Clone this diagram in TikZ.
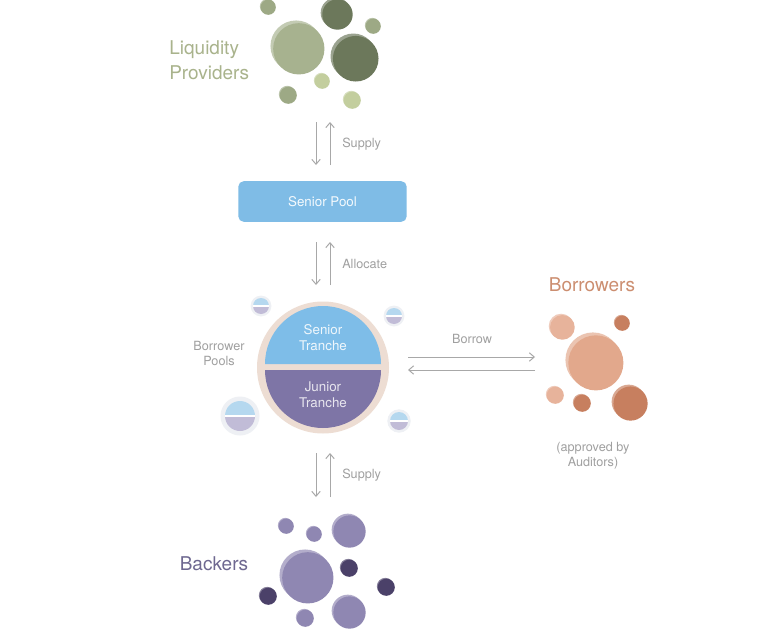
\documentclass[tikz,border=0pt]{standalone}
\usepackage{fontspec}
\setmainfont{TeX Gyre Heros}
\usetikzlibrary{arrows.meta,positioning}
\definecolor{greenM}{HTML}{9DA985}
\definecolor{greenL}{HTML}{A7B28F}
\definecolor{greenD}{HTML}{6C785B}
\definecolor{greenY}{HTML}{C3CE9E}
\definecolor{orangeL}{HTML}{E7B39B}
\definecolor{orangeM}{HTML}{E2A88C}
\definecolor{orangeD}{HTML}{C77F5F}
\definecolor{purpleM}{HTML}{8F87B2}
\definecolor{purpleD}{HTML}{4B4169}
\definecolor{lpcol}{HTML}{A9B38C}
\definecolor{borcol}{HTML}{CC8E70}
\definecolor{backcol}{HTML}{6E6890}
\definecolor{txtgray}{HTML}{A0A0A0}
\definecolor{arrgray}{HTML}{A8A8A8}
\definecolor{poolbox}{HTML}{7FBCE6}
\definecolor{ringcol}{HTML}{EDDDD3}
\definecolor{tblue}{HTML}{7EBDE8}
\definecolor{tpurple}{HTML}{7E75A6}
\definecolor{halo}{HTML}{EEF0F4}
\definecolor{pblue}{HTML}{B5D8EF}
\definecolor{ppurple}{HTML}{C1BCD7}

% one bubble: x, y, radius, colour
\newcommand{\bubble}[4]{%
  \fill[#4!68!white] ({#1-0.07*#3},{#2+0.07*#3}) circle ({0.95*#3});
  \fill[#4] ({#1+0.03*#3},{#2-0.03*#3}) circle ({0.95*#3});
}
% one small borrower pool: x, y, radius
\newcommand{\minipool}[3]{%
  \fill[halo] (#1,#2) circle ({1.3*#3});
  \fill[pblue] ({#1-#3},#2) arc (180:0:#3) -- cycle;
  \fill[ppurple] ({#1-#3},#2) arc (180:360:#3) -- cycle;
  \draw[white, line width=0.8pt] ({#1-#3},#2) -- ({#1+#3},#2);
}

\begin{document}
\begin{tikzpicture}[x=0.025cm, y=0.025cm]
\tikzset{
  flow/.style={draw=arrgray, line width=0.7pt, -{Straight Barb[length=3.5pt,width=6pt]}},
  small/.style={text=txtgray, font=\fontsize{9}{11}\selectfont, align=center, inner sep=0pt},
  big/.style={font=\fontsize{13.5}{17.5}\selectfont, align=left, inner sep=0pt},
  intext/.style={font=\fontsize{9.5}{11.5}\selectfont, align=center, inner sep=0pt}
}
\fill[white] (0,0) rectangle (769,-637);
\useasboundingbox (0,0) rectangle (769,-637);

% Liquidity providers
\foreach \x/\y/\r/\c in {268/-7/8/greenM, 298/-48/27/greenL, 337/-14/16/greenD,
  373/-26/8/greenM, 355/-58/24/greenD, 322/-81/8/greenY, 288/-95/9/greenM, 352/-100/9/greenY}
  {\bubble{\x}{\y}{\r}{\c}}
\node[big, text=lpcol, anchor=west] (lp) at (169,-60) {Liquidity\\Providers};

% Supply (top)
\coordinate (s1a) at (316,-122); \coordinate (s1b) at (316,-165);
\coordinate (s1c) at (330,-165); \coordinate (s1d) at (330,-122);
\draw[flow] (s1a) -- (s1b);
\draw[flow] (s1c) -- (s1d);
\node[small, anchor=west] (supply1) at (342,-144) {Supply};

% Senior pool
\node[fill=poolbox, rounded corners=4pt, minimum width=119.8pt, minimum height=29pt,
  text=white!92!poolbox, font=\fontsize{9.5}{11}\selectfont] (pool) at (322.5,-201.5) {Senior Pool};

% Allocate
\coordinate (a1) at (316,-242); \coordinate (a2) at (316,-285);
\coordinate (a3) at (330,-285); \coordinate (a4) at (330,-242);
\draw[flow] (a1) -- (a2);
\draw[flow] (a3) -- (a4);
\node[small, anchor=west] (alloc) at (342,-264) {Allocate};

% Borrower pools
\coordinate (mid) at (323,-367.5);
\fill[ringcol] (mid) circle (66);
\fill[tblue] (265,-364) arc (180:0:58) -- cycle;
\fill[tpurple] (265,-370) arc (180:360:58) -- cycle;
\node[intext, text=white!88!tblue] (senior) at (323,-338) {Senior\\Tranche};
\node[intext, text=white!82!tpurple] (junior) at (323,-395) {Junior\\Tranche};
\minipool{261}{-306}{8}
\minipool{394}{-316}{8}
\minipool{240}{-416}{15}
\minipool{399}{-421}{9}
\node[small, font=\fontsize{9}{10.6}\selectfont] (bpools) at (219,-353.5) {Borrower\\Pools};

% Borrow
\coordinate (b1) at (408,-357); \coordinate (b2) at (535,-357);
\coordinate (b3) at (535,-370); \coordinate (b4) at (408,-370);
\draw[flow] (b1) -- (b2);
\draw[flow] (b3) -- (b4);
\node[small] (borrow) at (472,-339) {Borrow};

% Borrowers
\node[big, text=borcol] (bor) at (592,-285) {Borrowers};
\foreach \x/\y/\r/\c in {562/-327/13/orangeL, 622/-323/8/orangeD, 595/-362/29/orangeM,
  555/-395/9/orangeL, 582/-403/9/orangeD, 630/-403/18/orangeD}
  {\bubble{\x}{\y}{\r}{\c}}
\node[small, font=\fontsize{9}{10.6}\selectfont] (approved) at (593,-455.5) {(approved by\\Auditors)};

% Supply (bottom)
\coordinate (s2a) at (316,-453); \coordinate (s2b) at (316,-497);
\coordinate (s2c) at (330,-497); \coordinate (s2d) at (330,-453);
\draw[flow] (s2a) -- (s2b);
\draw[flow] (s2c) -- (s2d);
\node[small, anchor=west] (supply2) at (342,-475) {Supply};

% Backers
\foreach \x/\y/\r/\c in {286/-526/8/purpleM, 314/-534/8/purpleM, 349/-531/17/purpleM,
  307/-577/27/purpleM, 349/-568/9/purpleD, 386/-587/9/purpleD, 268/-596/9/purpleD,
  305/-618/9/purpleM, 349/-612/17/purpleM}
  {\bubble{\x}{\y}{\r}{\c}}
\node[big, text=backcol] (backers) at (214,-564) {Backers};
\end{tikzpicture}
\end{document}
